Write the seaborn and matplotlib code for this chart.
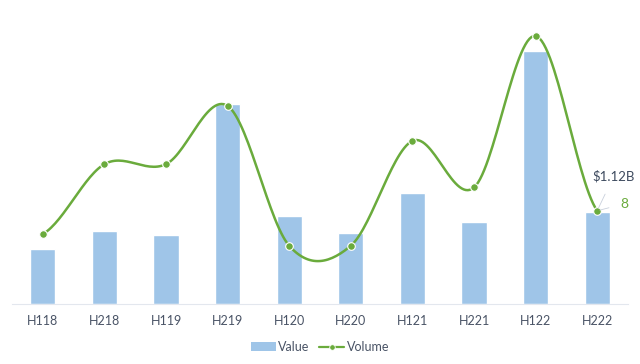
import numpy as np
import pandas as pd
import seaborn as sns
import matplotlib.pyplot as plt
from matplotlib.lines import Line2D
from matplotlib.patches import Patch

# half-year periods, deal value ($B) and deal volume
periods = ["H118", "H218", "H119", "H219", "H120", "H220", "H121", "H221", "H122", "H222"]
value_b = [0.67, 0.89, 0.84, 2.43, 1.07, 0.86, 1.34, 1.00, 3.07, 1.12]
volume = [6, 12, 12, 17, 5, 5, 14, 10, 23, 8]

BAR_COLOR = "#9fc5e8"
LINE_COLOR = "#6aab3c"
TEXT_COLOR = "#4a5466"

sns.set_style("white")
plt.rcParams["font.family"] = ["Lato", "DejaVu Sans"]

df = pd.DataFrame({"Period": periods, "Value": value_b, "Volume": volume})


def smooth_curve(y, steps=30):
    # Excel-like smoothed line (Catmull-Rom through every point)
    y = np.asarray(y, dtype=float)
    p = np.concatenate([[y[0]], y, [y[-1]]])
    xs, ys = [], []
    t = np.linspace(0, 1, steps, endpoint=False)
    for i in range(len(y) - 1):
        p0, p1, p2, p3 = p[i], p[i + 1], p[i + 2], p[i + 3]
        seg = 0.5 * ((2 * p1) + (-p0 + p2) * t + (2 * p0 - 5 * p1 + 4 * p2 - p3) * t ** 2
                     + (-p0 + 3 * p1 - 3 * p2 + p3) * t ** 3)
        xs.append(i + t)
        ys.append(seg)
    xs.append([len(y) - 1])
    ys.append([y[-1]])
    return np.concatenate(xs), np.concatenate(ys)


fig = plt.figure(figsize=(6.4, 3.64), dpi=100)
ax = fig.add_axes([12 / 640, 60 / 364, 616 / 640, 292 / 364])

sns.barplot(data=df, x="Period", y="Value", color=BAR_COLOR, width=0.41,
            saturation=1, ax=ax)
ax.set_xlim(-0.5, len(periods) - 0.5)
ax.set_ylim(0, 3.54)
ax.set_xlabel("")
ax.set_ylabel("")
ax.set_yticks([])
for side in ["top", "right", "left"]:
    ax.spines[side].set_visible(False)
ax.spines["bottom"].set_color("#e3e7ee")
ax.tick_params(axis="x", length=0, pad=8, labelsize=9, labelcolor=TEXT_COLOR)

ax2 = ax.twinx()
sx, sy = smooth_curve(volume)
ax2.plot(sx, sy, color=LINE_COLOR, lw=1.8, solid_capstyle="round")
ax2.plot(range(len(volume)), volume, "o", color=LINE_COLOR, ms=5.5,
         mec="white", mew=0.8)
ax2.set_ylim(0, 25.06)
ax2.set_yticks([])
for side in ["top", "right", "left", "bottom"]:
    ax2.spines[side].set_visible(False)

# labels for the last period
last = len(periods) - 1
ax2.annotate(f"${value_b[-1]:.2f}B", xy=(last, volume[-1]), xytext=(last + 0.27, 11.0),
             fontsize=9.5, color="#3d4a5e", ha="center", va="center",
             arrowprops=dict(arrowstyle="-", color="#c9d0dc", lw=0.6,
                             shrinkA=7, shrinkB=2))
ax2.annotate(f"{volume[-1]}", xy=(last, volume[-1]), xytext=(last + 0.44, 8.6),
             fontsize=10, color=LINE_COLOR, ha="center", va="center",
             arrowprops=dict(arrowstyle="-", color="#c9d0dc", lw=0.6,
                             shrinkA=6, shrinkB=2))

handles = [Patch(facecolor=BAR_COLOR, edgecolor="none"),
           Line2D([0], [0], color=LINE_COLOR, lw=1.6, marker="o", ms=4,
                  mec="white", mew=0.6)]
fig.legend(handles, ["Value", "Volume"], loc="center", bbox_to_anchor=(0.5, 17 / 364),
           ncol=2, frameon=False, fontsize=9, labelcolor=TEXT_COLOR,
           handlelength=2.0, handletextpad=0.2, columnspacing=0.8)

fig.savefig("out.png", dpi=100)
